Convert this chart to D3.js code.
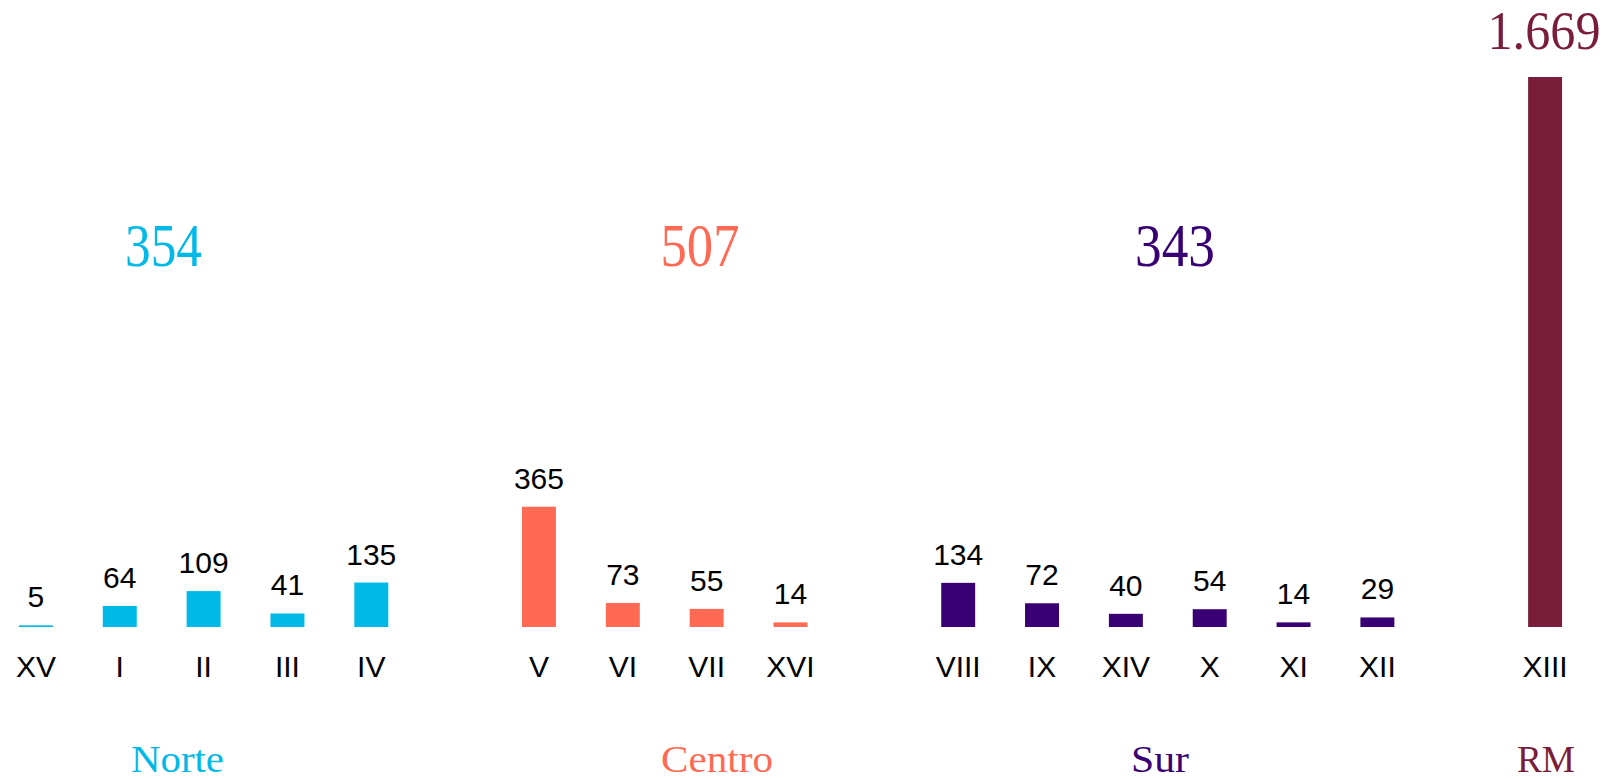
<!DOCTYPE html>
<html><head><meta charset="utf-8">
<script src="https://cdn.jsdelivr.net/npm/d3@7"></script>
<style>html,body{margin:0;padding:0;background:#fff;overflow:hidden}</style>
</head><body><svg id="c" width="1608" height="779"></svg>
<script>
// ---- data ----
const groups = ["Norte", "Centro", "Sur", "RM"];
const groupTotals = ["354", "507", "343", "1.669"];
const groupColors = ["#00B9E7", "#FF6A55", "#380073", "#7A1D3B"];
const norteCats = ["XV", "I", "II", "III", "IV"];
const norteValues = [5, 64, 109, 41, 135];
const centroCats = ["V", "VI", "VII", "XVI"];
const centroValues = [365, 73, 55, 14];
const surCats = ["VIII", "IX", "XIV", "X", "XI", "XII"];
const surValues = [134, 72, 40, 54, 14, 29];
const rmCats = ["XIII"];
const rmValues = [1669];

// ---- layout ----
const totalX = [163.5, 700, 1175, 1544];
const totalY = [266, 266, 266, 49];
const totalLen = [77, 79, 80, 113];
const groupLabelX = [177.5, 717, 1160, 1546];
const groupLabelLen = [93, 112, 58, 58];

const cats = [norteCats, centroCats, surCats, rmCats];
const vals = [norteValues, centroValues, surValues, rmValues];

// one band scale, with an empty slot between regions
const domain = [...norteCats, "_1", ...centroCats, "_2", ...surCats, "_3", ...rmCats];
const x = d3.scaleBand().domain(domain).range([-6, 1587])
  .paddingInner(0.595).paddingOuter(0.2975);
const y = d3.scaleLinear().domain([0, 1669]).range([627, 77]);

const svg = d3.select("#c");

groups.forEach((g, gi) => {
  const data = cats[gi].map((c, i) => ({c, v: vals[gi][i]}));
  const gg = svg.append("g");
  gg.selectAll("rect").data(data).join("rect")
    .attr("x", d => x(d.c))
    .attr("width", x.bandwidth())
    .attr("y", d => y(d.v))
    .attr("height", d => y(0) - y(d.v))
    .attr("fill", groupColors[gi]);
  if (gi < 3) {
    gg.selectAll("text.val").data(data).join("text")
      .attr("class", "val")
      .attr("x", d => x(d.c) + x.bandwidth() / 2)
      .attr("y", d => y(d.v) - 18)
      .attr("text-anchor", "middle")
      .attr("font-family", "Liberation Sans, Arial, sans-serif")
      .attr("font-size", 30)
      .attr("fill", "#000")
      .text(d => d.v);
  }
  // totals
  svg.append("text")
    .attr("x", totalX[gi]).attr("y", totalY[gi])
    .attr("text-anchor", "middle")
    .attr("font-family", "Liberation Serif, 'DejaVu Serif', serif")
    .attr("font-size", gi < 3 ? 62 : 54)
    .attr("textLength", totalLen[gi])
    .attr("lengthAdjust", "spacingAndGlyphs")
    .attr("fill", groupColors[gi])
    .text(groupTotals[gi]);
  // group labels
  svg.append("text")
    .attr("x", groupLabelX[gi]).attr("y", 772)
    .attr("text-anchor", "middle")
    .attr("font-family", "Liberation Serif, 'DejaVu Serif', serif")
    .attr("font-size", 37)
    .attr("textLength", groupLabelLen[gi])
    .attr("lengthAdjust", "spacingAndGlyphs")
    .attr("fill", groupColors[gi])
    .text(g);
});

// category axis labels
const ax = d3.axisBottom(x).tickSize(0).tickPadding(0)
  .tickValues([...norteCats, ...centroCats, ...surCats, ...rmCats]);
const axg = svg.append("g").attr("transform", "translate(0,677)").call(ax);
axg.select(".domain").remove();
axg.selectAll("text")
  .attr("dy", 0).attr("y", 0)
  .attr("font-family", "Liberation Sans, Arial, sans-serif")
  .attr("font-size", 30)
  .attr("fill", "#000");
</script>
</body></html>
